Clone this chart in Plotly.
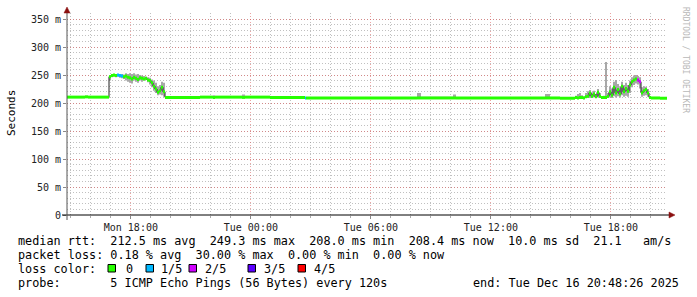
import plotly.graph_objects as go
import pandas as pd

# ---------------- data ----------------
start_time = "2025-12-15 14:48:26"
end_time = "2025-12-16 20:48:26"

# hours since start
t_hours = [0.00, 0.90, 1.05, 2.10, 2.20, 2.30, 2.40, 2.50, 2.60, 2.70, 2.80, 2.90, 3.00, 3.10,
           3.20, 3.30, 3.40, 3.50, 3.60, 3.70, 3.80, 3.90, 4.00, 4.10, 4.20, 4.30, 4.40, 4.50,
           4.60, 4.70, 4.80, 4.90, 6.65, 7.30, 7.40, 8.75, 8.90, 10.15, 11.90, 11.95, 13.65,
           15.65, 17.50, 17.70, 19.30, 19.45, 21.65, 23.90, 24.15, 24.65, 25.40, 25.50, 25.60,
           25.70, 25.80, 25.90, 26.00, 26.10, 26.20, 26.30, 26.40, 26.50, 26.60, 26.70, 26.80,
           26.90, 27.00, 27.10, 27.20, 27.30, 27.40, 27.50, 27.60, 27.70, 27.80, 27.90, 28.00,
           28.10, 28.20, 28.30, 28.40, 28.50, 28.60, 28.70, 28.80, 28.90, 29.00, 29.10, 29.20,
           29.65, 30.00]

median_ms = [210.5, 211, 210.5, 247, 249, 250, 249, 250, 249, 248, 247, 248, 246, 245,
             243, 246, 244, 242, 245, 244, 243, 244, 241, 240, 236, 230, 225, 219,
             222, 228, 220, 210, 210.5, 210, 210.5, 210, 210.5, 210, 209, 208.8, 209,
             208.8, 209, 209, 209, 209, 209, 209, 209, 208.5, 210, 209, 210,
             210, 209, 211, 212, 218, 212, 216, 211, 219, 212, 210, 210,
             210, 212, 220, 214, 228, 218, 224, 216, 230, 220, 226, 221,
             232, 238, 241, 243, 241, 238, 218, 222, 224, 218, 210, 209,
             208.5, 208.4]

smoke_lo_ms = [209, 209, 209, 240, 246, 247, 246, 247, 245, 244, 243, 240, 238, 236,
               235, 240, 238, 236, 240, 238, 240, 241, 237, 233, 228, 222, 218, 214,
               215, 214, 211, 209, 209.5, 209, 209.5, 209, 209.5, 209, 208, 208, 208,
               208, 208, 208, 208, 208, 208, 208, 208, 207.5, 209, 208, 209,
               209, 208, 209, 209, 209, 209, 210, 209, 210, 209, 209, 209,
               209, 209, 210, 209, 212, 210, 212, 210, 214, 211, 213, 211,
               218, 228, 232, 235, 233, 226, 211, 213, 214, 211, 209, 208,
               207.5, 207.5]

smoke_hi_ms = [211, 213, 211, 250, 251, 252, 251, 252, 251, 252, 251, 253, 252, 253,
               252, 253, 251, 252, 250, 249, 248, 247, 246, 245, 242, 240, 236, 230,
               232, 238, 236, 212, 211.5, 214, 211.5, 215, 211.5, 211, 210, 210, 210,
               210, 218, 211, 215, 210, 210, 216, 210, 210, 213, 216, 218,
               214, 212, 218, 221, 223, 219, 222, 216, 225, 218, 212, 213,
               273, 218, 230, 226, 238, 241, 234, 228, 238, 232, 236, 232,
               240, 246, 249, 250, 248, 246, 228, 230, 229, 225, 212, 210,
               209.5, 209.5]

loss_level = [0, 0, 0, 0, 0, 0, 0, 1, 1, 1, 0, 0, 0, 0,
              0, 0, 0, 0, 0, 0, 0, 0, 0, 0, 0, 0, 0, 0,
              0, 0, 0, 0, 0, 0, 0, 0, 0, 0, 1, 0, 0,
              0, 0, 0, 0, 0, 0, 0, 0, 0, 0, 0, 0,
              0, 0, 0, 0, 0, 0, 0, 0, 0, 0, 0, 0,
              0, 0, 0, 0, 0, 0, 0, 0, 0, 0, 0, 0,
              0, 0, 0, 0, 2, 2, 0, 0, 0, 0, 0, 0,
              0, 0]

y_tick_vals = [0, 50, 100, 150, 200, 250, 300, 350]
y_tick_text = ["0", "50 m", "100 m", "150 m", "200 m", "250 m", "300 m", "350 m"]

loss_labels = ["0", "1/5", "2/5", "3/5", "4/5"]
loss_colors = ["#26ff00", "#00b8ff", "#d000ff", "#5a00ff", "#ff0000"]

legend_rtt = "median rtt:  212.5 ms avg  249.3 ms max  208.0 ms min  208.4 ms now  10.0 ms sd  21.1   am/s"
legend_loss = "packet loss: 0.18 % avg  30.00 % max  0.00 % min  0.00 % now"
legend_color_title = "loss color:"
legend_probe = "probe:       5 ICMP Echo Pings (56 Bytes) every 120s"
legend_end = "end: Tue Dec 16 20:48:26 2025"
watermark = "RRDTOOL / TOBI OETIKER"

# ---------------- geometry helpers (pixel -> paper) ----------------
W, H = 697, 297
L, R, T, B = 67, 30, 13, 82
PW, PH = W - L - R, H - T - B
Y_MAX = 202 / 0.56


def px(x):
    return (x - L) / PW


def py(y):
    return (H - B - y) / PH


def nb(s):
    return s.replace(" ", "\u00a0")


MONO = "DejaVu Sans Mono"

start = pd.Timestamp(start_time)
ts = [start + pd.Timedelta(hours=h) for h in t_hours]

fig = go.Figure()

# smoke
fig.add_trace(go.Scatter(x=ts, y=smoke_lo_ms, mode="lines", line=dict(width=0, shape="hv"),
                         hoverinfo="skip"))
fig.add_trace(go.Scatter(x=ts, y=smoke_hi_ms, mode="lines", line=dict(width=0, shape="hv"),
                         fill="tonexty", fillcolor="#a8a8a8", hoverinfo="skip"))
# thin dark median
fig.add_trace(go.Scatter(x=ts, y=median_ms, mode="lines",
                         line=dict(width=1, shape="hv", color="#202020")))
# loss-coloured thick median segments
for lvl, col in enumerate(loss_colors):
    xs, ys = [], []
    for i in range(len(ts) - 1):
        if loss_level[i] == lvl:
            xs += [ts[i], ts[i + 1], None]
            ys += [median_ms[i], median_ms[i], None]
    if xs:
        fig.add_trace(go.Scatter(x=xs, y=ys, mode="lines", connectgaps=False,
                                 line=dict(width=3, color=col)))

minor_grid = "rgba(140,140,140,0.55)"
major_grid = "rgba(220,90,90,0.55)"

fig.update_layout(
    width=W, height=H, margin=dict(l=L, r=R, t=T, b=B, pad=0),
    paper_bgcolor="white", plot_bgcolor="white", showlegend=False,
    font=dict(family=MONO, size=10, color="#222"),
    xaxis=dict(type="date", range=[start_time, end_time], tickformat="%a %H:%M",
               tick0="2025-12-15 18:00:00", dtick=6 * 3600 * 1000,
               showgrid=True, gridcolor=major_grid, griddash="1px,2px", gridwidth=1,
               ticks="outside", ticklen=3, tickcolor="#888", showline=False, zeroline=False,
               tickfont=dict(family=MONO, size=10, color="#222"),
               minor=dict(dtick=3600 * 1000, showgrid=True, gridcolor=minor_grid,
                          griddash="1px,2px", ticks="outside", ticklen=2, tickcolor="#aaa")),
    yaxis=dict(range=[0, Y_MAX], tickvals=y_tick_vals, ticktext=y_tick_text,
               showgrid=True, gridcolor=major_grid, griddash="1px,2px", gridwidth=1,
               ticks="outside", ticklen=3, tickcolor="#888", showline=False, zeroline=False,
               tickfont=dict(family=MONO, size=10, color="#222"),
               minor=dict(dtick=10, showgrid=True, gridcolor=minor_grid, griddash="1px,2px")),
)

shapes = []
# x axis line + arrow
shapes.append(dict(type="line", xref="paper", yref="paper", x0=px(62), x1=px(670),
                   y0=py(215), y1=py(215), line=dict(color="#000", width=1)))
shapes.append(dict(type="path", xref="paper", yref="paper",
                   path=f"M {px(669)} {py(212)} L {px(675)} {py(215)} L {px(669)} {py(218)} Z",
                   fillcolor="#8b1010", line=dict(color="#8b1010", width=0.5)))
# y axis line + arrow
shapes.append(dict(type="line", xref="paper", yref="paper", x0=px(67), x1=px(67),
                   y0=py(220), y1=py(11), line=dict(color="#555", width=1)))
shapes.append(dict(type="path", xref="paper", yref="paper",
                   path=f"M {px(64)} {py(13)} L {px(67)} {py(7)} L {px(70)} {py(13)} Z",
                   fillcolor="#8b1010", line=dict(color="#8b1010", width=0.5)))

ann = []
LEG_FONT = dict(family=MONO, size=11.8, color="#000")
ann.append(dict(x=px(16), y=py(241), text=nb(legend_rtt)))
ann.append(dict(x=px(16), y=py(255), text=nb(legend_loss)))
ann.append(dict(x=px(16), y=py(269), text=nb(legend_color_title)))
ann.append(dict(x=px(16), y=py(283), text=nb(legend_probe)))
box_x = [108, 146, 189, 248, 298]
lab_x = [124, 159, 203, 262, 312]
for bx, lx, lab, col in zip(box_x, lab_x, loss_labels, loss_colors):
    shapes.append(dict(type="rect", xref="paper", yref="paper", x0=px(bx), x1=px(bx + 7.5),
                       y0=py(272), y1=py(264.5), fillcolor=col, line=dict(color="#000", width=1)))
    ann.append(dict(x=px(lx), y=py(269), text=nb(lab)))
annotations = [dict(a, xref="paper", yref="paper", xanchor="left", yanchor="middle",
                    showarrow=False, font=LEG_FONT) for a in ann]
annotations.append(dict(x=px(681), y=py(283), text=nb(legend_end), xref="paper", yref="paper",
                        xanchor="right", yanchor="middle", showarrow=False, font=LEG_FONT))
annotations.append(dict(x=px(11), y=py(113), text="Seconds", xref="paper", yref="paper",
                        xanchor="center", yanchor="middle", textangle=-90, showarrow=False,
                        font=dict(family=MONO, size=11, color="#000")))
annotations.append(dict(x=px(686), y=py(60), text=nb(watermark), xref="paper", yref="paper",
                        xanchor="center", yanchor="middle", textangle=90, showarrow=False,
                        font=dict(family=MONO, size=8, color="#b8b8b8")))

fig.update_layout(shapes=shapes, annotations=annotations)
fig.write_html("out.html")
